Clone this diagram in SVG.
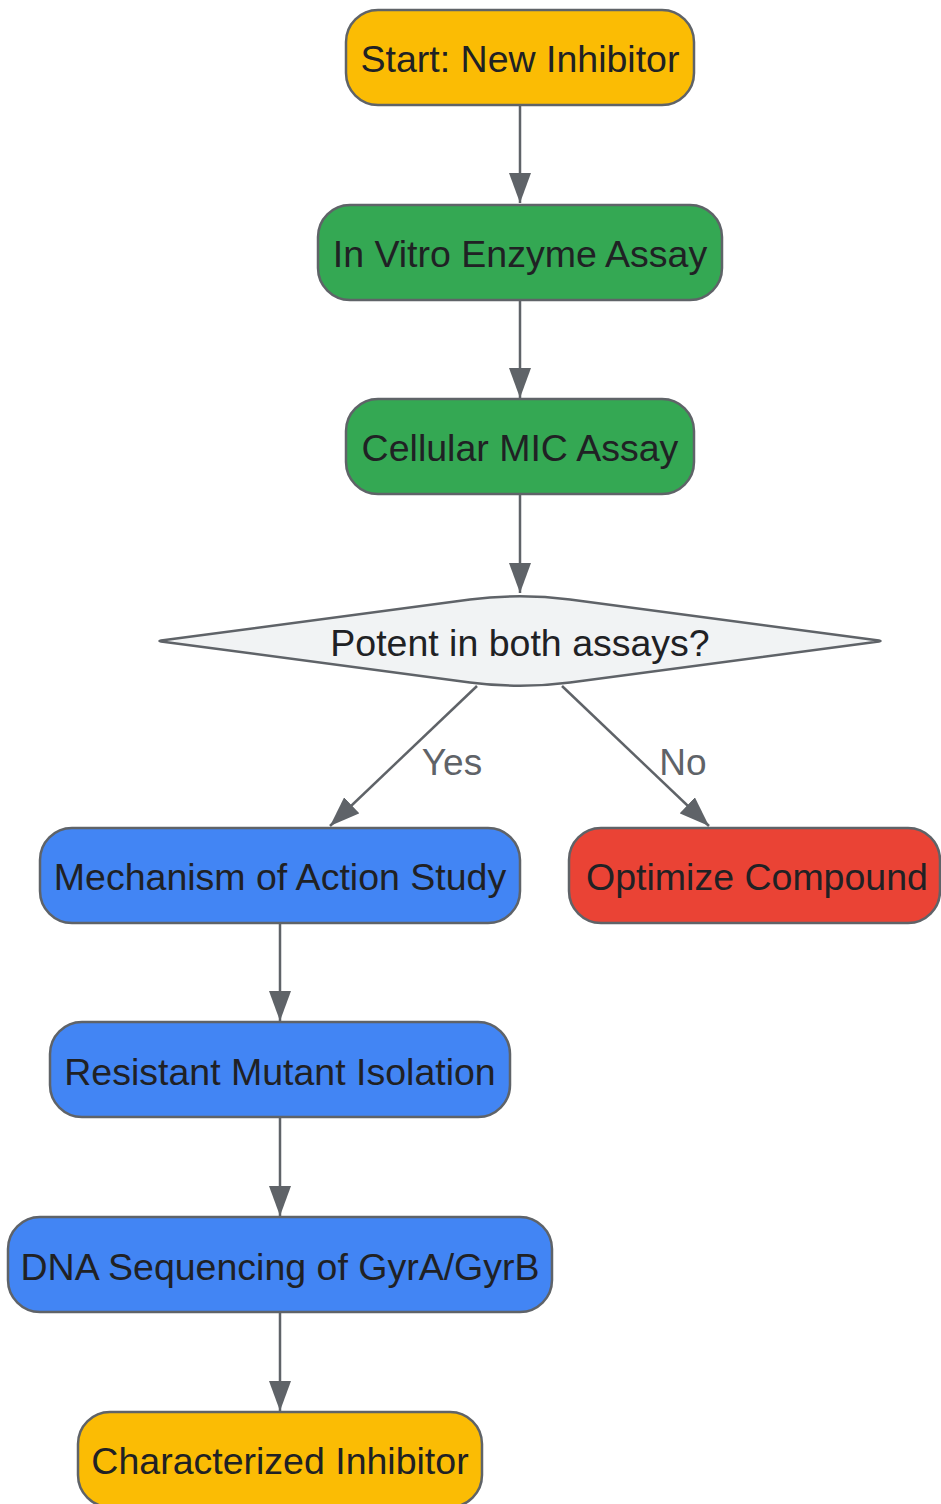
<svg xmlns="http://www.w3.org/2000/svg" width="941" height="1504" viewBox="0 0 941 1504">
<style>
.n{stroke:#5f6368;stroke-width:2.5}
.y{fill:#fbbc04}.g{fill:#34a853}.b{fill:#4285f4}.r{fill:#ea4335}.d{fill:#f1f3f4}
.t{font-family:"Liberation Sans",Arial,sans-serif;font-size:37.5px;fill:#202124;text-anchor:middle;dominant-baseline:central}
.e{stroke:#5f6368;stroke-width:2.5;fill:none;marker-end:url(#a)}
.l{font-family:"Liberation Sans",Arial,sans-serif;font-size:37px;fill:#5f6368;text-anchor:middle;dominant-baseline:central}
</style>
<defs>
<marker id="a" markerUnits="userSpaceOnUse" markerWidth="30" markerHeight="22" refX="30" refY="11" orient="auto">
<path d="M0,0 L30,11 L0,22 z" fill="#5f6368"/>
</marker>
</defs>
<rect width="941" height="1504" fill="#ffffff"/>
<g id="edges">
<line class="e" x1="520" y1="105" x2="520" y2="203"/>
<line class="e" x1="520" y1="300" x2="520" y2="398"/>
<line class="e" x1="520" y1="494" x2="520" y2="593"/>
<line class="e" x1="477" y1="686" x2="330" y2="826"/>
<line class="e" x1="562" y1="686" x2="709" y2="826"/>
<line class="e" x1="280" y1="923" x2="280" y2="1021"/>
<line class="e" x1="280" y1="1117" x2="280" y2="1216"/>
<line class="e" x1="280" y1="1312" x2="280" y2="1411"/>
<text class="l" x="452" y="762">Yes</text>
<text class="l" x="683" y="762">No</text>
</g>
<g id="start"><rect class="n y" x="346" y="10" width="348" height="95" rx="32"/><text class="t" x="520" y="59">Start: New Inhibitor</text></g>
<g id="invitro"><rect class="n g" x="318" y="205" width="404" height="95" rx="32"/><text class="t" x="520" y="254">In Vitro Enzyme Assay</text></g>
<g id="mic"><rect class="n g" x="346" y="399" width="348" height="95" rx="32"/><text class="t" x="520" y="448">Cellular MIC Assay</text></g>
<g id="decision"><path class="n d" d="M163,640.2 L470,599.6 Q520,593 570,599.6 L877,640.2 Q884,641 877,641.8 L570,682.4 Q520,689 470,682.4 L163,641.8 Q156,641 163,640.2 Z"/><text class="t" x="520" y="643">Potent in both assays?</text></g>
<g id="moa"><rect class="n b" x="40" y="828" width="480" height="95" rx="32"/><text class="t" x="280" y="877">Mechanism of Action Study</text></g>
<g id="optimize"><rect class="n r" x="569" y="828" width="371" height="95" rx="32"/><text class="t" x="757" y="877">Optimize Compound</text></g>
<g id="resistant"><rect class="n b" x="50" y="1022" width="460" height="95" rx="32"/><text class="t" x="280" y="1072">Resistant Mutant Isolation</text></g>
<g id="dna"><rect class="n b" x="8" y="1217" width="544" height="95" rx="32"/><text class="t" x="280" y="1267">DNA Sequencing of GyrA/GyrB</text></g>
<g id="characterized"><rect class="n y" x="78" y="1412" width="404" height="95" rx="32"/><text class="t" x="280" y="1461">Characterized Inhibitor</text></g>
</svg>
